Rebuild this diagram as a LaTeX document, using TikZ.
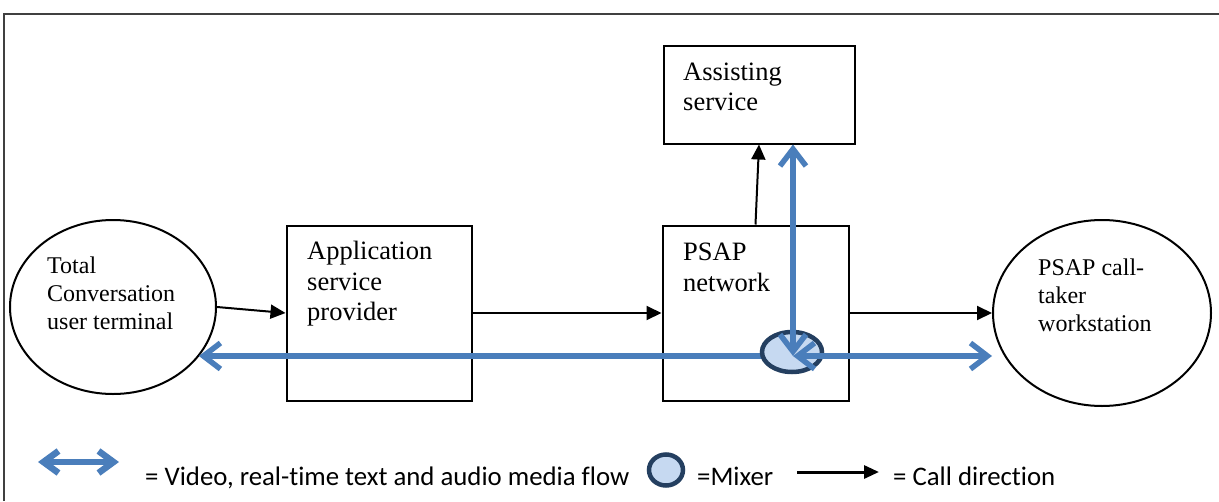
\documentclass[tikz,border=0pt]{standalone}
\usepackage{fontspec}
\setmainfont{Liberation Serif}
\newfontfamily\legendfont[Ligatures=NoCommon]{Carlito}
\usetikzlibrary{arrows.meta,shapes.geometric,calc}
\definecolor{flowblue}{HTML}{4A7EBB}
\definecolor{mixfill}{HTML}{C6D9F1}
\definecolor{mixline}{HTML}{243F60}
\definecolor{framegray}{HTML}{404040}
\begin{document}
\begin{tikzpicture}[x=1pt,y=-1pt,
  endpoint/.style={ellipse,draw=black,line width=2pt,inner sep=0pt},
  unitbox/.style={rectangle,draw=black,line width=2pt,inner sep=0pt},
  mixer/.style={ellipse,draw=mixline,fill=mixfill,line width=4.5pt,inner sep=0pt},
  boxtext/.style={anchor=base west,align=left,inner sep=0pt,font=\fontsize{26.5}{30.5}\selectfont},
  elltext/.style={anchor=base west,align=left,inner sep=0pt,font=\fontsize{24}{27.8}\selectfont},
  legtext/.style={anchor=base west,inner sep=0pt,font=\legendfont\fontsize{26.8}{30}\selectfont},
  callarrow/.style={draw=black,line width=2pt,-{Triangle[length=15pt,width=14pt]}},
  flow/.style={draw=flowblue,line width=5.5pt},
]
\useasboundingbox (0,0) rectangle (1219,501);
\draw[framegray,line width=1.5pt] (4,501) -- (4,14) -- (1219,14);

% shapes
\node[endpoint,minimum width=206pt,minimum height=174pt] (ue) at (113,307) {};
\node[unitbox,minimum width=185pt,minimum height=175pt] (asp) at (379,313) {};
\node[unitbox,minimum width=186pt,minimum height=175pt] (psap) at (755.5,313) {};
\node[unitbox,minimum width=191pt,minimum height=98pt] (as) at (759,94.5) {};
\node[endpoint,minimum width=218pt,minimum height=186pt] (ws) at (1102,313) {};

% texts (anchored at the baseline of the last line)
\node[elltext] (uet) at (47,329.5) {Total\\Conversation\\user terminal};
\node[boxtext] (aspt) at (307,320.5) {Application\\service\\provider};
\node[boxtext] (psapt) at (683,291) {PSAP\\network};
\node[boxtext] (ast) at (683,110.5) {Assisting\\service};
\node[elltext] (wst) at (1038,331) {PSAP call-\\taker\\workstation};

% call direction arrows
\draw[callarrow] (ue.east) -- (asp.west);
\draw[callarrow] (asp.east) -- (psap.west);
\draw[callarrow] (psap.east) -- (ws.west);
\draw[callarrow] (psap.north) -- (as.south);

% media flow
\coordinate (hub) at (793,356);
\draw[flow,-{Straight Barb[length=17pt,width=26pt]}] (hub) -- (hub -| ue.-30);
\node[mixer,minimum width=60pt,minimum height=40pt] (mix) at (792,352) {};
\draw[flow,{Straight Barb[length=17pt,width=26pt]}-{Straight Barb[length=17pt,width=26pt]}] (as.south -| hub) -- (hub);
\draw[flow,{Straight Barb[length=17pt,width=26pt]}-{Straight Barb[length=17pt,width=26pt]}] (hub) -- (hub -| ws.west);

% legend
\coordinate (la1) at (38,462);
\coordinate (la2) at (119,462);
\draw[flow,line width=6.5pt,{Straight Barb[length=15pt,width=22pt]}-{Straight Barb[length=15pt,width=22pt]}] (la1) -- (la2);
\node[legtext] (lt1) at (145,485) {= Video, real-time text and audio media flow};
\node[mixer,minimum width=34pt,minimum height=31pt] (lmix) at (666,470) {};
\node[legtext] (lt2) at (697,485) {=Mixer};
\coordinate (lc1) at (797,472);
\coordinate (lc2) at (879,472);
\draw[draw=black,line width=3pt,-{Triangle[length=15pt,width=13pt]}] (lc1) -- (lc2);
\node[legtext] (lt3) at (893,485) {= Call direction};
\end{tikzpicture}
\end{document}
